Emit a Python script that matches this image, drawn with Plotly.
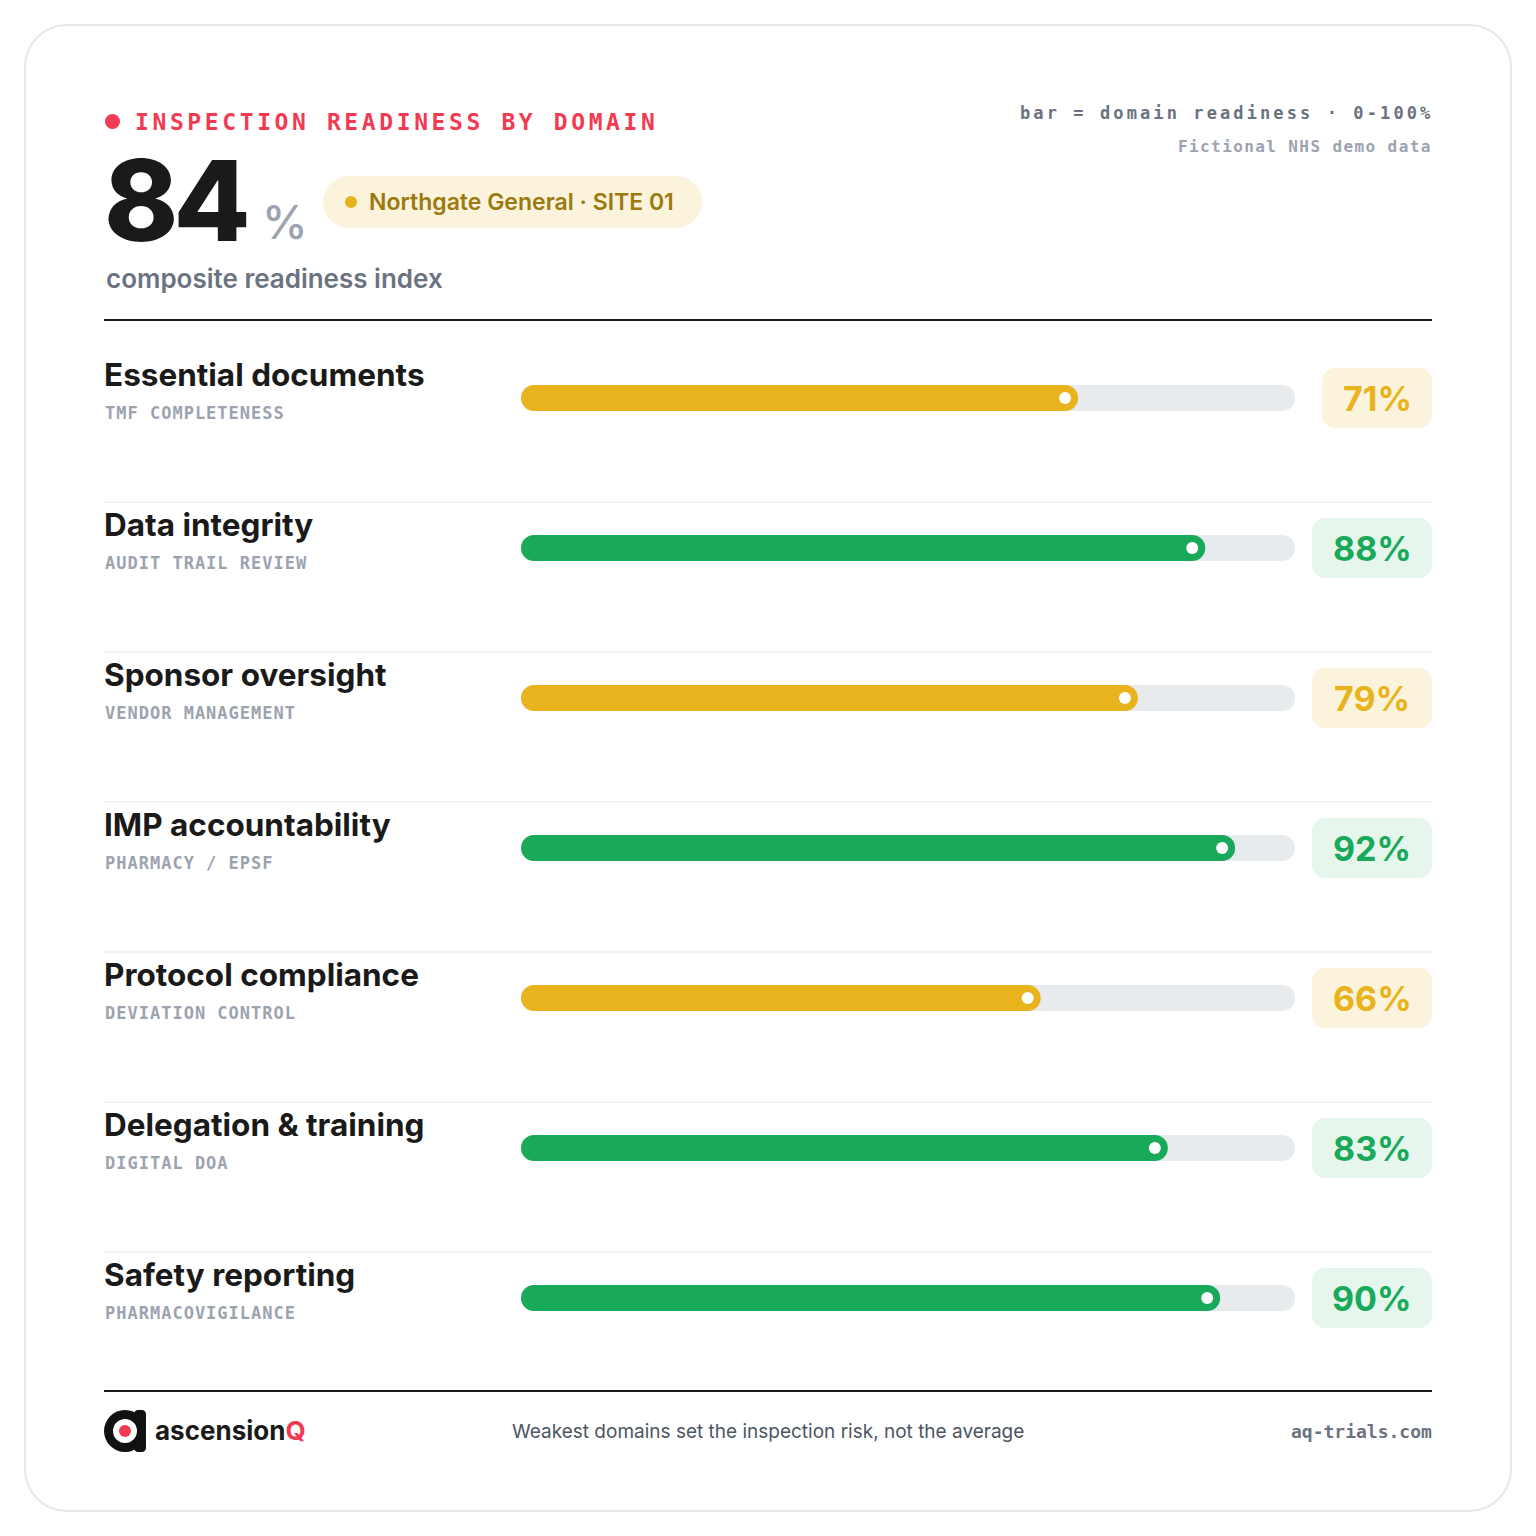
import plotly.graph_objects as go

# ---------------- data ----------------
domains = ["Essential documents", "Data integrity", "Sponsor oversight", "IMP accountability",
           "Protocol compliance", "Delegation & training", "Safety reporting"]
subtitles = ["TMF COMPLETENESS", "AUDIT TRAIL REVIEW", "VENDOR MANAGEMENT", "PHARMACY / EPSF",
             "DEVIATION CONTROL", "DIGITAL DOA", "PHARMACOVIGILANCE"]
scores = [71, 88, 79, 92, 66, 83, 90]
composite = 84
site_label = "Northgate General · SITE 01"
threshold = 80

# ---------------- style ----------------
W = H = 1536
SANS = "Inter"
MONO = "DejaVu Sans Mono"
RED = "#f23a52"
AMBER = "#e8b31c"
AMBER_BG = "#fbf3dc"
AMBER_TXT = "#9a7a0e"
GREEN = "#19a95a"
GREEN_BG = "#e7f6ec"
TRACK = "#e8ebee"
INK = "#1a1a1a"
GREY = "#6b7280"
LIGHT = "#9ca3af"

def X(px):
    return px / W

def Y(py):
    return 1 - py / H

def rrect(x0, y0, x1, y1, r):
    k = 0.5523 * r
    pts = [
        f"M{X(x0 + r)},{Y(y0)}", f"L{X(x1 - r)},{Y(y0)}",
        f"C{X(x1 - r + k)},{Y(y0)} {X(x1)},{Y(y0 + r - k)} {X(x1)},{Y(y0 + r)}",
        f"L{X(x1)},{Y(y1 - r)}",
        f"C{X(x1)},{Y(y1 - r + k)} {X(x1 - r + k)},{Y(y1)} {X(x1 - r)},{Y(y1)}",
        f"L{X(x0 + r)},{Y(y1)}",
        f"C{X(x0 + r - k)},{Y(y1)} {X(x0)},{Y(y1 - r + k)} {X(x0)},{Y(y1 - r)}",
        f"L{X(x0)},{Y(y0 + r)}",
        f"C{X(x0)},{Y(y0 + r - k)} {X(x0 + r - k)},{Y(y0)} {X(x0 + r)},{Y(y0)}", "Z",
    ]
    return " ".join(pts)

# layout geometry (pixels)
ROW_TOP, ROW_H = 323, 150
n = len(domains)
TRACK_L, TRACK_R = 521, 1295
BAR_H = 26
k = BAR_H / (TRACK_R - TRACK_L - BAR_H) * 100  # cap length in data units

def row_px(i):
    return ROW_TOP + (i + 0.5) * ROW_H

idx = list(range(n))
fill_cols = [GREEN if s >= threshold else AMBER for s in scores]

fig = go.Figure()
# track
fig.add_trace(go.Bar(y=idx, x=[100 + k] * n, base=[-k] * n, orientation="h",
                     marker=dict(color=TRACK, cornerradius=BAR_H // 2, line=dict(width=0)),
                     width=BAR_H / ROW_H, hoverinfo="skip"))
# fill
fig.add_trace(go.Bar(y=idx, x=[s + k for s in scores], base=[-k] * n, orientation="h",
                     marker=dict(color=fill_cols, cornerradius=BAR_H // 2, line=dict(width=0)),
                     width=BAR_H / ROW_H, hoverinfo="skip"))
# end dots
fig.add_trace(go.Scatter(x=[s - k / 2 for s in scores], y=idx, mode="markers",
                         marker=dict(size=12, color="white", line=dict(width=0)),
                         hoverinfo="skip", cliponaxis=False))

shapes = []
ann = []

# card
shapes.append(dict(type="path", path=rrect(25, 25, 1511, 1511, 42), xref="paper", yref="paper",
                   line=dict(color="#e6e7ec", width=2), fillcolor="rgba(0,0,0,0)", layer="below"))

# header
shapes.append(dict(type="circle", xref="paper", yref="paper", x0=X(105), x1=X(120), y0=Y(114), y1=Y(129),
                   fillcolor=RED, line=dict(width=0)))
ann.append(dict(x=X(133), y=Y(122), text='<span style="letter-spacing:3.6px">INSPECTION READINESS BY DOMAIN</span>',
                font=dict(family=MONO, size=23, color=RED, weight=700), xanchor="left", yanchor="middle"))
ann.append(dict(x=X(102), y=Y(200), text=f'<span style="letter-spacing:-5px">{composite}</span>',
                font=dict(family=SANS, size=112, color=INK, weight=800), xanchor="left", yanchor="middle"))
ann.append(dict(x=X(260), y=Y(222), text="%",
                font=dict(family=SANS, size=46, color=LIGHT, weight=500), xanchor="left", yanchor="middle"))
shapes.append(dict(type="path", path=rrect(323, 176, 702, 228, 26), xref="paper", yref="paper",
                   fillcolor=AMBER_BG, line=dict(width=0)))
shapes.append(dict(type="circle", xref="paper", yref="paper", x0=X(345), x1=X(357), y0=Y(196), y1=Y(208),
                   fillcolor=AMBER, line=dict(width=0)))
ann.append(dict(x=X(367), y=Y(202), text=site_label,
                font=dict(family=SANS, size=23, color=AMBER_TXT, weight=600), xanchor="left", yanchor="middle"))
ann.append(dict(x=X(104), y=Y(278), text="composite readiness index",
                font=dict(family=SANS, size=26, color=GREY, weight=600), xanchor="left", yanchor="middle"))
ann.append(dict(x=X(1435), y=Y(113), text='<span style="letter-spacing:3.1px">bar = domain readiness · 0-100%</span>',
                font=dict(family=MONO, size=17, color=GREY, weight=700), xanchor="right", yanchor="middle"))
ann.append(dict(x=X(1434), y=Y(146), text='<span style="letter-spacing:1.4px">Fictional NHS demo data</span>',
                font=dict(family=MONO, size=16, color=LIGHT, weight=700), xanchor="right", yanchor="middle"))

# separators
shapes.append(dict(type="line", xref="paper", yref="paper", x0=X(104), x1=X(1432), y0=Y(320), y1=Y(320),
                   line=dict(color=INK, width=2)))
shapes.append(dict(type="line", xref="paper", yref="paper", x0=X(104), x1=X(1432), y0=Y(1391), y1=Y(1391),
                   line=dict(color=INK, width=2)))

for i, (d, sub, s, c) in enumerate(zip(domains, subtitles, scores, fill_cols)):
    cy = row_px(i)
    if i > 0:
        yl = ROW_TOP + i * ROW_H + 29
        shapes.append(dict(type="line", xref="paper", yref="paper", x0=X(104), x1=X(1432), y0=Y(yl), y1=Y(yl),
                           line=dict(color="#eceef1", width=1.5)))
    ann.append(dict(x=X(102), y=i, yref="y", yshift=24, text=d,
                    font=dict(family=SANS, size=31.5, color=INK, weight=700), xanchor="left", yanchor="middle"))
    ann.append(dict(x=X(103), y=i, yref="y", yshift=-15, text=f'<span style="letter-spacing:1px">{sub}</span>',
                    font=dict(family=MONO, size=17, color=LIGHT, weight=700), xanchor="left", yanchor="middle"))
    green = s >= threshold
    txt = f"{s}%"
    bw = 110 if "1" in txt else 120
    shapes.append(dict(type="path", path=rrect(1432 - bw, cy - 30, 1432, cy + 30, 13), xref="paper", yref="paper",
                       fillcolor=GREEN_BG if green else AMBER_BG, line=dict(width=0), layer="below"))
    ann.append(dict(x=X(1432 - bw / 2), y=i, yref="y", text=txt,
                    font=dict(family=SANS, size=34, color=GREEN if green else AMBER, weight=700),
                    xanchor="center", yanchor="middle"))

# footer logo
shapes.append(dict(type="circle", xref="paper", yref="paper", x0=X(104), x1=X(146), y0=Y(1410), y1=Y(1452),
                   fillcolor="#111111", line=dict(width=0)))
shapes.append(dict(type="path", path=rrect(134, 1410, 146, 1452, 4), xref="paper", yref="paper",
                   fillcolor="#111111", line=dict(width=0)))
shapes.append(dict(type="circle", xref="paper", yref="paper", x0=X(113), x1=X(137), y0=Y(1419), y1=Y(1443),
                   fillcolor="white", line=dict(width=0)))
shapes.append(dict(type="circle", xref="paper", yref="paper", x0=X(119), x1=X(131), y0=Y(1425), y1=Y(1437),
                   fillcolor=RED, line=dict(width=0)))
ann.append(dict(x=X(153), y=Y(1430), text=f'ascension<span style="color:{RED}">Q</span>',
                font=dict(family=SANS, size=26, color=INK, weight=700), xanchor="left", yanchor="middle"))
ann.append(dict(x=X(768), y=Y(1431), text="Weakest domains set the inspection risk, not the average",
                font=dict(family=SANS, size=19, color="#4b5563", weight=400), xanchor="center", yanchor="middle"))
ann.append(dict(x=X(1434), y=Y(1431), text="aq-trials.com",
                font=dict(family=MONO, size=18, color=GREY, weight=700), xanchor="right", yanchor="middle"))

for a in ann:
    a.setdefault("xref", "paper")
    a.setdefault("yref", "paper")
    a["showarrow"] = False

fig.update_layout(
    width=W, height=H, margin=dict(l=0, r=0, t=0, b=0),
    paper_bgcolor="white", plot_bgcolor="rgba(0,0,0,0)",
    barmode="overlay", showlegend=False,
    xaxis=dict(domain=[X(TRACK_L), X(TRACK_R)], range=[-k, 100], visible=False, fixedrange=True),
    yaxis=dict(domain=[Y(ROW_TOP + n * ROW_H), Y(ROW_TOP)], range=[n - 0.5, -0.5], visible=False, fixedrange=True),
    shapes=shapes, annotations=ann,
)

fig.write_html("out.html", config={"displayModeBar": False})
